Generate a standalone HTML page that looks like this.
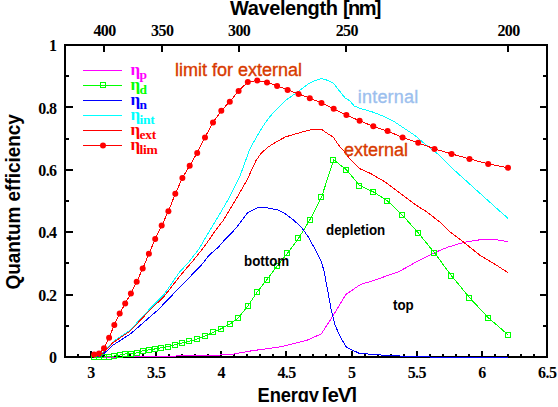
<!DOCTYPE html>
<html><head><meta charset="utf-8"><style>
html,body{margin:0;padding:0;background:#fff;}
body{width:558px;height:407px;overflow:hidden;position:relative;font-family:"Liberation Sans",sans-serif;}
svg{position:absolute;left:0;top:0;}
</style></head><body>
<svg width="558" height="407" viewBox="0 0 558 407">
<g stroke="#000" stroke-width="2" fill="none" shape-rendering="crispEdges">
<rect x="65" y="45" width="482" height="312"/>
<path d="M65.0,357V354 M78.0,357V354 M91.0,357V351 M104.0,357V354 M117.0,357V354 M130.0,357V354 M143.0,357V354 M156.0,357V351 M169.0,357V354 M182.0,357V354 M195.0,357V354 M208.0,357V354 M221.0,357V351 M234.0,357V354 M247.0,357V354 M260.0,357V354 M273.0,357V354 M286.0,357V351 M300.0,357V354 M313.0,357V354 M326.0,357V354 M339.0,357V354 M352.0,357V351 M365.0,357V354 M378.0,357V354 M391.0,357V354 M404.0,357V354 M417.0,357V351 M430.0,357V354 M443.0,357V354 M456.0,357V354 M469.0,357V354 M482.0,357V351 M495.0,357V354 M508.0,357V354 M521.0,357V354 M534.0,357V354 M547.0,357V351 M104,45V52 M162,45V52 M239,45V52 M346,45V52 M508,45V52 M65,326H69 M547,326H543 M65,295H73 M547,295H540 M65,263H69 M547,263H543 M65,232H73 M547,232H540 M65,201H69 M547,201H543 M65,170H73 M547,170H540 M65,139H69 M547,139H543 M65,107H73 M547,107H540 M65,76H69 M547,76H543"/>
</g>
<g class="curves" fill="none" stroke-width="1" stroke-linejoin="miter" shape-rendering="crispEdges">
<polyline stroke="#f0f" points="96.0,357.5 187.2,355.8 215.8,355.3 233.8,354.0 251.7,350.8 280.0,346.9 290.0,344.6 306.7,340.4 321.3,333.9 332.6,316.4 345.8,294.4 360.6,284.5 371.6,281.1 398.7,271.8 416.0,262.0 433.0,253.3 447.9,247.1 463.9,242.4 479.8,239.8 492.6,239.2 508.0,241.7"/>
<polyline stroke="#0f0" points="94.1,357.0 99.0,357.0 104.0,357.0 109.1,356.7 114.3,356.0 119.7,355.0 125.2,354.0 130.9,353.8 136.7,352.9 142.7,350.8 148.9,349.9 155.2,348.9 161.7,347.8 168.4,346.6 175.3,344.7 182.4,342.9 189.7,341.2 197.2,338.9 205.0,336.0 213.0,332.4 221.3,328.6 229.8,324.2 238.6,317.6 247.8,306.0 257.2,291.9 267.0,279.5 277.1,266.2 287.6,253.0 298.5,238.4 309.8,220.0 321.5,197.3 333.7,159.8 346.4,169.8 359.6,185.5 373.3,191.8 387.6,201.0 402.6,215.3 418.2,232.8 434.5,252.9 451.6,275.9 469.5,297.6 488.2,317.7 508.0,334.7"/>
<polyline stroke="#00f" points="96.0,357.0 101.2,356.2 113.2,345.0 130.4,333.9 146.4,320.0 157.9,310.0 169.6,297.8 185.4,281.5 201.1,265.4 208.9,255.5 218.8,246.7 225.6,238.8 235.8,228.5 241.7,220.6 247.6,212.7 257.5,207.8 267.3,207.8 277.2,209.8 285.1,213.7 292.9,219.6 300.8,226.5 308.7,237.4 316.6,252.2 321.3,262.0 323.8,270.0 327.6,290.1 331.3,310.1 335.1,325.2 340.1,336.4 346.4,347.2 358.9,353.2 375.2,354.7 400.0,356.0 430.0,357.0 508.0,357.0"/>
<polyline stroke="#0ff" points="99.4,356.5 113.2,341.6 130.4,329.9 144.2,314.9 150.0,308.6 163.8,294.8 179.5,272.2 189.3,261.4 199.1,248.7 208.9,232.0 216.2,220.0 229.5,197.3 239.8,176.7 249.8,149.1 259.7,131.4 265.5,122.5 271.5,114.7 286.2,100.0 299.5,90.6 307.6,84.4 314.2,81.0 321.3,78.4 327.4,80.3 333.3,83.0 339.2,90.6 345.1,98.0 350.0,100.9 354.3,106.1 361.5,108.8 372.3,111.9 383.0,116.0 393.8,121.4 404.5,128.5 415.3,135.7 424.5,143.7 439.5,155.4 454.2,170.1 469.0,183.4 483.7,196.7 498.4,209.9 507.9,218.2"/>
<polyline stroke="#f00" points="99.4,356.5 113.2,342.5 130.4,330.9 144.2,316.1 150.0,310.0 163.8,296.8 181.4,274.2 193.2,260.5 205.0,245.7 215.8,230.0 223.6,220.0 235.4,200.3 247.2,179.6 256.0,160.5 261.0,153.5 267.8,147.2 276.0,142.0 285.5,136.9 300.0,132.6 308.1,130.3 315.1,129.4 321.7,129.4 325.8,132.5 329.5,134.7 333.2,137.0 336.1,141.4 339.1,145.8 343.2,150.0 350.6,159.8 359.2,168.4 370.2,173.3 385.0,181.9 399.7,193.0 414.5,204.1 426.0,211.4 439.5,221.7 451.1,232.8 463.9,242.4 479.8,255.1 495.8,264.7 508.0,272.7"/>
<polyline stroke="#f00" points="94.1,354.6 99.0,353.5 104.0,348.3 109.1,337.7 114.3,325.0 119.7,313.6 125.2,303.4 130.9,293.4 136.7,281.8 142.7,268.6 148.9,253.7 155.2,239.0 161.7,225.6 168.4,211.2 175.3,193.8 182.4,177.9 189.7,165.7 197.2,152.9 205.0,137.4 213.0,122.5 221.3,110.7 229.8,101.7 238.6,90.9 247.8,82.1 257.2,80.5 267.0,82.4 277.1,85.9 287.6,89.9 298.5,93.9 309.8,98.2 321.5,102.9 333.7,108.8 346.4,115.0 359.6,120.8 373.3,126.3 387.6,131.1 402.6,137.4 418.2,142.8 434.5,148.9 451.6,153.9 469.5,158.9 488.2,163.9 508.0,167.8"/>
</g>
<g class="curves" fill="none" stroke="#0f0" stroke-width="1">
<rect x="91.5" y="354.5" width="5" height="5"/>
<rect x="96.5" y="354.5" width="5" height="5"/>
<rect x="101.5" y="354.5" width="5" height="5"/>
<rect x="106.5" y="354.5" width="5" height="5"/>
<rect x="111.5" y="353.5" width="5" height="5"/>
<rect x="117.5" y="352.5" width="5" height="5"/>
<rect x="122.5" y="351.5" width="5" height="5"/>
<rect x="128.5" y="351.5" width="5" height="5"/>
<rect x="134.5" y="350.5" width="5" height="5"/>
<rect x="140.5" y="348.5" width="5" height="5"/>
<rect x="146.5" y="347.5" width="5" height="5"/>
<rect x="152.5" y="346.5" width="5" height="5"/>
<rect x="158.5" y="345.5" width="5" height="5"/>
<rect x="165.5" y="344.5" width="5" height="5"/>
<rect x="172.5" y="342.5" width="5" height="5"/>
<rect x="179.5" y="340.5" width="5" height="5"/>
<rect x="186.5" y="338.5" width="5" height="5"/>
<rect x="194.5" y="336.5" width="5" height="5"/>
<rect x="202.5" y="333.5" width="5" height="5"/>
<rect x="210.5" y="329.5" width="5" height="5"/>
<rect x="218.5" y="326.5" width="5" height="5"/>
<rect x="227.5" y="321.5" width="5" height="5"/>
<rect x="235.5" y="315.5" width="5" height="5"/>
<rect x="245.5" y="303.5" width="5" height="5"/>
<rect x="254.5" y="289.5" width="5" height="5"/>
<rect x="264.5" y="277.5" width="5" height="5"/>
<rect x="274.5" y="263.5" width="5" height="5"/>
<rect x="284.5" y="250.5" width="5" height="5"/>
<rect x="295.5" y="235.5" width="5" height="5"/>
<rect x="307.5" y="217.5" width="5" height="5"/>
<rect x="318.5" y="194.5" width="5" height="5"/>
<rect x="330.5" y="157.5" width="5" height="5"/>
<rect x="343.5" y="167.5" width="5" height="5"/>
<rect x="356.5" y="183.5" width="5" height="5"/>
<rect x="370.5" y="189.5" width="5" height="5"/>
<rect x="384.5" y="198.5" width="5" height="5"/>
<rect x="399.5" y="212.5" width="5" height="5"/>
<rect x="415.5" y="230.5" width="5" height="5"/>
<rect x="431.5" y="250.5" width="5" height="5"/>
<rect x="448.5" y="273.5" width="5" height="5"/>
<rect x="466.5" y="295.5" width="5" height="5"/>
<rect x="485.5" y="315.5" width="5" height="5"/>
<rect x="505.5" y="332.5" width="5" height="5"/>
</g>
<g class="curves" fill="#f00">
<circle cx="94.1" cy="354.6" r="3"/>
<circle cx="99.0" cy="353.5" r="3"/>
<circle cx="104.0" cy="348.3" r="3"/>
<circle cx="109.1" cy="337.7" r="3"/>
<circle cx="114.3" cy="325.0" r="3"/>
<circle cx="119.7" cy="313.6" r="3"/>
<circle cx="125.2" cy="303.4" r="3"/>
<circle cx="130.9" cy="293.4" r="3"/>
<circle cx="136.7" cy="281.8" r="3"/>
<circle cx="142.7" cy="268.6" r="3"/>
<circle cx="148.9" cy="253.7" r="3"/>
<circle cx="155.2" cy="239.0" r="3"/>
<circle cx="161.7" cy="225.6" r="3"/>
<circle cx="168.4" cy="211.2" r="3"/>
<circle cx="175.3" cy="193.8" r="3"/>
<circle cx="182.4" cy="177.9" r="3"/>
<circle cx="189.7" cy="165.7" r="3"/>
<circle cx="197.2" cy="152.9" r="3"/>
<circle cx="205.0" cy="137.4" r="3"/>
<circle cx="213.0" cy="122.5" r="3"/>
<circle cx="221.3" cy="110.7" r="3"/>
<circle cx="229.8" cy="101.7" r="3"/>
<circle cx="238.6" cy="90.9" r="3"/>
<circle cx="247.8" cy="82.1" r="3"/>
<circle cx="257.2" cy="80.5" r="3"/>
<circle cx="267.0" cy="82.4" r="3"/>
<circle cx="277.1" cy="85.9" r="3"/>
<circle cx="287.6" cy="89.9" r="3"/>
<circle cx="298.5" cy="93.9" r="3"/>
<circle cx="309.8" cy="98.2" r="3"/>
<circle cx="321.5" cy="102.9" r="3"/>
<circle cx="333.7" cy="108.8" r="3"/>
<circle cx="346.4" cy="115.0" r="3"/>
<circle cx="359.6" cy="120.8" r="3"/>
<circle cx="373.3" cy="126.3" r="3"/>
<circle cx="387.6" cy="131.1" r="3"/>
<circle cx="402.6" cy="137.4" r="3"/>
<circle cx="418.2" cy="142.8" r="3"/>
<circle cx="434.5" cy="148.9" r="3"/>
<circle cx="451.6" cy="153.9" r="3"/>
<circle cx="469.5" cy="158.9" r="3"/>
<circle cx="488.2" cy="163.9" r="3"/>
<circle cx="508.0" cy="167.8" r="3"/>
</g>
<line x1="83" y1="70.5" x2="122" y2="70.5" stroke="#f0f" stroke-width="1"/>
<text x="130.5" y="75.0" fill="#f0f" font-family="Liberation Serif" font-weight="bold" font-size="17">&#951;</text>
<text x="139.5" y="78.8" fill="#f0f" font-family="Liberation Serif" font-weight="bold" font-size="13.5" letter-spacing="-0.3">p</text>
<line x1="83" y1="85.5" x2="122" y2="85.5" stroke="#0f0" stroke-width="1"/>
<rect x="100.5" y="82.5" width="5" height="5" fill="none" stroke="#0f0"/>
<text x="130.5" y="90.0" fill="#0f0" font-family="Liberation Serif" font-weight="bold" font-size="17">&#951;</text>
<text x="139.5" y="93.8" fill="#0f0" font-family="Liberation Serif" font-weight="bold" font-size="13.5" letter-spacing="-0.3">d</text>
<line x1="83" y1="100.5" x2="122" y2="100.5" stroke="#00f" stroke-width="1"/>
<text x="130.5" y="105.0" fill="#00f" font-family="Liberation Serif" font-weight="bold" font-size="17">&#951;</text>
<text x="139.5" y="108.8" fill="#00f" font-family="Liberation Serif" font-weight="bold" font-size="13.5" letter-spacing="-0.3">n</text>
<line x1="83" y1="115.5" x2="122" y2="115.5" stroke="#0ff" stroke-width="1"/>
<text x="130.5" y="120.0" fill="#0ff" font-family="Liberation Serif" font-weight="bold" font-size="17">&#951;</text>
<text x="139.5" y="123.8" fill="#0ff" font-family="Liberation Serif" font-weight="bold" font-size="13.5" letter-spacing="-0.3">int</text>
<line x1="83" y1="130.5" x2="122" y2="130.5" stroke="#f00" stroke-width="1"/>
<text x="130.5" y="135.0" fill="#f00" font-family="Liberation Serif" font-weight="bold" font-size="17">&#951;</text>
<text x="139.5" y="138.8" fill="#f00" font-family="Liberation Serif" font-weight="bold" font-size="13.5" letter-spacing="-0.3">ext</text>
<line x1="83" y1="145.5" x2="122" y2="145.5" stroke="#f00" stroke-width="1"/>
<circle cx="103" cy="145.5" r="3" fill="#f00"/>
<text x="130.5" y="150.0" fill="#f00" font-family="Liberation Serif" font-weight="bold" font-size="17">&#951;</text>
<text x="139.5" y="153.8" fill="#f00" font-family="Liberation Serif" font-weight="bold" font-size="13.5" letter-spacing="-0.3">lim</text>
<g font-family="Liberation Serif" font-weight="bold" font-size="16" fill="#000" letter-spacing="-0.6">
<text x="56.5" y="51" text-anchor="end">1</text>
<text x="56.5" y="113.6" text-anchor="end">0.8</text>
<text x="56.5" y="176" text-anchor="end">0.6</text>
<text x="56.5" y="238.4" text-anchor="end">0.4</text>
<text x="56.5" y="300.8" text-anchor="end">0.2</text>
<text x="56.5" y="363" text-anchor="end">0</text>
<text x="91" y="378" text-anchor="middle">3</text>
<text x="156.2" y="378" text-anchor="middle">3.5</text>
<text x="221.3" y="378" text-anchor="middle">4</text>
<text x="286.5" y="378" text-anchor="middle">4.5</text>
<text x="351.7" y="378" text-anchor="middle">5</text>
<text x="416.8" y="378" text-anchor="middle">5.5</text>
<text x="482" y="378" text-anchor="middle">6</text>
<text x="547.2" y="378" text-anchor="middle">6.5</text>
<text x="104.5" y="36" text-anchor="middle">400</text>
<text x="162.2" y="36" text-anchor="middle">350</text>
<text x="239.1" y="36" text-anchor="middle">300</text>
<text x="346.8" y="36" text-anchor="middle">250</text>
<text x="508.5" y="36" text-anchor="middle">200</text>
</g>
<g font-family="Liberation Sans" font-weight="bold" font-size="20" fill="#000">
<text x="230" y="15" letter-spacing="-0.4">Wavelength</text>
<text x="343" y="15" letter-spacing="-1.6">[nm]</text>
<text transform="translate(257.6,401.6) scale(0.895,1)" font-size="20.5" letter-spacing="-0.2">Energy</text>
<text x="322" y="401.6" font-size="20.5" letter-spacing="-1.3">[eV]</text>
<text transform="translate(20,289.5) rotate(-90) scale(0.945,1)">Quantum efficiency</text>
</g>
<g font-family="Liberation Sans" font-size="18" stroke-width="0.35">
<text x="175" y="76" fill="#d83a00" stroke="#d83a00">limit for external</text>
<text x="357.8" y="103" letter-spacing="0.2" fill="#9cbfee" stroke="#9cbfee">internal</text>
<text x="344" y="156" fill="#d83a00" stroke="#d83a00">external</text>
</g>
<g font-family="Liberation Sans" font-weight="bold" font-size="14.5" fill="#000">
<text transform="translate(326,234.5) scale(0.92,1)">depletion</text>
<text transform="translate(244,265.5) scale(0.92,1)">bottom</text>
<text transform="translate(393,309.5) scale(0.92,1)">top</text>
</g>
<rect x="0" y="402" width="558" height="5" fill="#fff"/>
</svg>
</body></html>
